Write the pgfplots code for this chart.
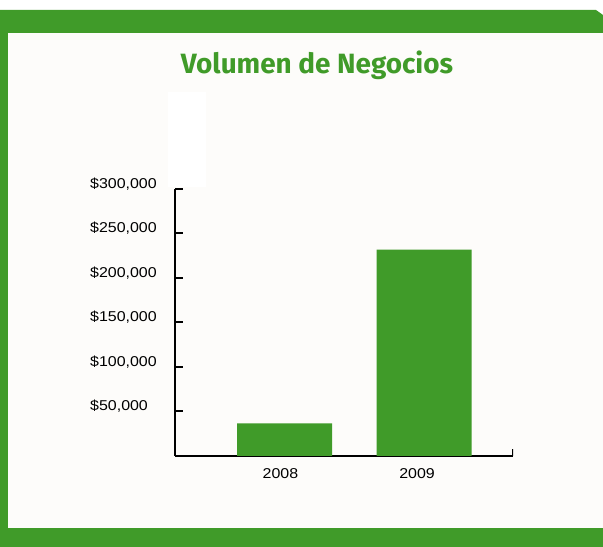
\documentclass[border=0pt]{standalone}
\usepackage{fontspec}
\setmainfont{Liberation Sans}
\newfontfamily\tickfont[FakeStretch=1.12]{Liberation Sans}
\newfontfamily\titlefont{Fira Sans}
\usepackage{pgfplots}
\pgfplotsset{compat=1.18}
\definecolor{grn}{RGB}{64,155,41}
\definecolor{bg}{RGB}{253,252,250}
\begin{document}
\begin{tikzpicture}[x=1bp,y=1bp]
\useasboundingbox (0,0) rectangle (603,547);
\fill[white] (0,0) rectangle (603,547);
\fill[grn] (0,0) -- (0,537) -- (596,537) -- (603,532) -- (603,0) -- cycle;
\fill[bg] (8,19) rectangle (603,514);
\fill[white] (168,360) rectangle (206,455);
\node[text=grn, font=\titlefont\bfseries\fontsize{28}{31}\selectfont] at (317,482) {Volumen de Negocios};
\begin{axis}[
  at={(175bp,91bp)}, anchor=south west,
  scale only axis, width=338bp, height=267bp,
  xmin=-0.785, xmax=1.638, ymin=0, ymax=300000,
  axis lines*=left,
  axis line style={line width=2bp, black},
  ybar, bar width=0.681,
  xtick={-0.029,0.95}, xticklabels={2008,2009},
  xtick style={draw=none},
  ytick={50000,100000,150000,200000,250000,300000},
  yticklabels={{\$50,000},{\$100,000},{\$150,000},{\$200,000},{\$250,000},{\$300,000}},
  ytick style={line width=2bp, black},
  tick align=inside, major tick length=8bp,
  yticklabel style={font=\tickfont\fontsize{14.3}{16}\selectfont, anchor=west, inner sep=0pt, xshift=-85bp, yshift=5bp},
  xticklabel style={font=\tickfont\fontsize{14.3}{16}\selectfont, yshift=-9bp},
  scaled y ticks=false,
]
\addplot[fill=grn, draw=none, bar shift=0pt] coordinates {(0,36667) (1,231800)};
\draw[line width=2bp, black] (axis cs:1.638,0) -- (axis cs:1.638,7900);
\end{axis}
\end{tikzpicture}
\end{document}
